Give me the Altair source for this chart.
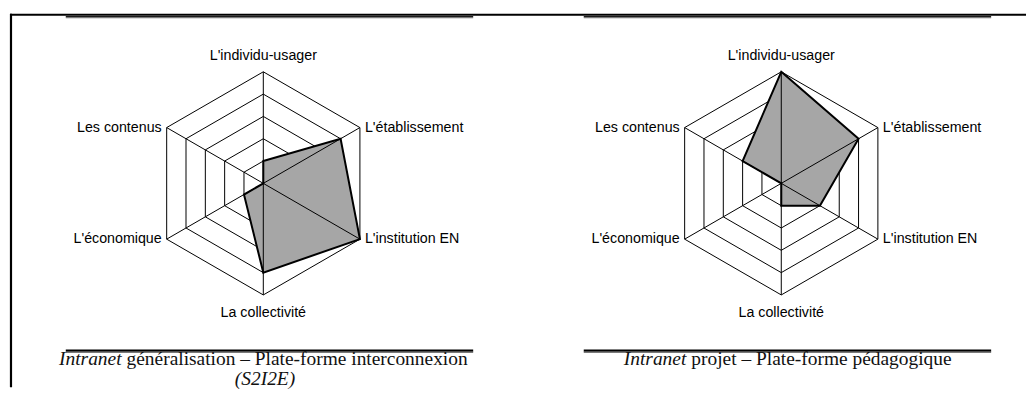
import altair as alt
import pandas as pd

# ---------------- data ----------------
axes = ["L'individu-usager", "L'établissement", "L'institution EN",
        "La collectivité", "L'économique", "Les contenus"]
values_left = [1, 4, 5, 4, 1, 0]    # Intranet généralisation – Plate-forme interconnexion
values_right = [5, 4, 2, 1, 0, 2]   # Intranet projet – Plate-forme pédagogique
rings = [1, 2, 3, 4, 5]
caption_italic = ["Intranet", "Intranet"]
caption_roman = ["généralisation – Plate-forme interconnexion",
                 "projet – Plate-forme pédagogique"]
caption_line2 = "(S2I2E)"

# ---------------- layout ----------------
W, H = 1020, 380
UNIT = 22.4                 # pixels per ring
CX0, CY = 254.3, 175.3      # centre of the left radar (plot px)
OFFSET = 520 / UNIT         # distance between the two radars, in ring units
xdom = [-CX0 / UNIT, (W - CX0) / UNIT]
ydom = [-(H - CY) / UNIT, CY / UNIT]

series = [values_left, values_right]

vals_df = pd.DataFrame([
    {"panel": p, "cx": p * OFFSET, "idx": i, "axis": axes[i], "value": v}
    for p, vs in enumerate(series) for i, v in enumerate(vs)
])
rings_df = pd.DataFrame([
    {"panel": p, "cx": p * OFFSET, "idx": i, "ring": r, "key": f"{p}-{r}"}
    for p in range(2) for r in rings for i in range(len(axes))
])
# each spoke: two points (centre, r=0 and outer vertex, r=max)
spokes_df = pd.DataFrame([
    {"panel": p, "cx": p * OFFSET, "idx": i, "r": r, "key": f"{p}-{i}"}
    for p in range(2) for i in range(len(axes)) for r in (0, max(rings))
])
labels_df = pd.DataFrame([
    {"panel": p, "cx": p * OFFSET, "idx": i, "axis": axes[i], "r": max(rings)}
    for p in range(2) for i in range(len(axes))
])

xs = alt.Scale(domain=xdom, nice=False, zero=False)
ys = alt.Scale(domain=ydom, nice=False, zero=False)

ANG = "datum.idx * PI / 3"

rings_layer = alt.Chart(rings_df).transform_calculate(
    x=f"datum.cx + datum.ring * sin({ANG})",
    y=f"datum.ring * cos({ANG})",
).mark_line(interpolate="linear-closed", stroke="black", strokeWidth=1).encode(
    x=alt.X("x:Q", scale=xs, axis=None),
    y=alt.Y("y:Q", scale=ys, axis=None),
    detail="key:N",
    order="idx:Q",
)

spokes_layer = alt.Chart(spokes_df).transform_calculate(
    x=f"datum.cx + datum.r * sin({ANG})",
    y=f"datum.r * cos({ANG})",
).mark_line(stroke="black", strokeWidth=1).encode(
    x=alt.X("x:Q", scale=xs, axis=None),
    y=alt.Y("y:Q", scale=ys, axis=None),
    detail="key:N",
    order="r:Q",
)

poly_layer = alt.Chart(vals_df).transform_calculate(
    x=f"datum.cx + datum.value * sin({ANG})",
    y=f"datum.value * cos({ANG})",
).mark_line(interpolate="linear-closed", fill="#a6a6a6", stroke="black",
            strokeWidth=2, strokeJoin="miter").encode(
    x=alt.X("x:Q", scale=xs, axis=None),
    y=alt.Y("y:Q", scale=ys, axis=None),
    detail="panel:N",
    order="idx:Q",
)

FONT = "Liberation Sans"
LSIZE = 14.3

lab_base = alt.Chart(labels_df).transform_calculate(
    vx=f"datum.cx + datum.r * sin({ANG})",
    vy=f"datum.r * cos({ANG})",
)
lab_center = lab_base.transform_filter("datum.idx == 0 || datum.idx == 3").transform_calculate(
    ly="datum.vy > 0 ? datum.vy + 0.72 : datum.vy - 0.8"
).mark_text(font=FONT, fontSize=LSIZE, align="center", baseline="middle", color="black").encode(
    x=alt.X("vx:Q", scale=xs, axis=None),
    y=alt.Y("ly:Q", scale=ys, axis=None),
    text="axis:N",
)
lab_right = lab_base.transform_filter("datum.idx == 1 || datum.idx == 2").mark_text(
    font=FONT, fontSize=LSIZE, align="left", baseline="middle", dx=5, color="black").encode(
    x=alt.X("vx:Q", scale=xs, axis=None),
    y=alt.Y("vy:Q", scale=ys, axis=None),
    text="axis:N",
)
lab_left = lab_base.transform_filter("datum.idx == 4 || datum.idx == 5").mark_text(
    font=FONT, fontSize=LSIZE, align="right", baseline="middle", dx=-5, color="black").encode(
    x=alt.X("vx:Q", scale=xs, axis=None),
    y=alt.Y("vy:Q", scale=ys, axis=None),
    text="axis:N",
)

# ---------------- decorative table lines ----------------
dummy = alt.Data(values=[{}])


def hrule(x1, x2, y, color, width):
    return alt.Chart(dummy).mark_rule(color=color, strokeWidth=width).encode(
        x=alt.value(x1), x2=alt.value(x2), y=alt.value(y))


def vrule(x, y1, y2, color, width):
    return alt.Chart(dummy).mark_rule(color=color, strokeWidth=width).encode(
        x=alt.value(x), y=alt.value(y1), y2=alt.value(y2))


decor = [
    hrule(0, W, 6, "black", 2.2),
    vrule(1, 5, H, "black", 2.2),
]
for left in (56, 576):
    decor += [
        hrule(left, left + 409, 7.9, "black", 1),
        hrule(left, left + 409, 9.0, "#7a7a7a", 1.3),
        hrule(left, left + 409, 343.2, "black", 2.3),
        hrule(left, left + 409, 345.0, "#7a7a7a", 1.3),
    ]

# ---------------- captions ----------------
SERIF = "Liberation Serif"
CSIZE = 19.5


def text_at(txt, x, y, align, italic=False):
    return alt.Chart(dummy).mark_text(
        text=txt, font=SERIF, fontSize=CSIZE, align=align, baseline="alphabetic",
        fontStyle="italic" if italic else "normal", color="#111111").encode(
        x=alt.value(x), y=alt.value(y))


captions = [
    text_at(caption_italic[0], 112, 357.5, "right", italic=True),
    text_at(caption_roman[0], 117, 357.5, "left"),
    text_at(caption_line2, 256, 377.5, "center", italic=True),
    text_at(caption_italic[1], 679, 357.5, "right", italic=True),
    text_at(caption_roman[1], 684, 357.5, "left"),
]

chart = alt.layer(
    *decor, rings_layer, poly_layer, spokes_layer, lab_center, lab_right, lab_left, *captions
).properties(width=W, height=H, padding=0).configure_view(stroke=None)

chart.save("out.html", embed_options={"renderer": "svg", "actions": False})
